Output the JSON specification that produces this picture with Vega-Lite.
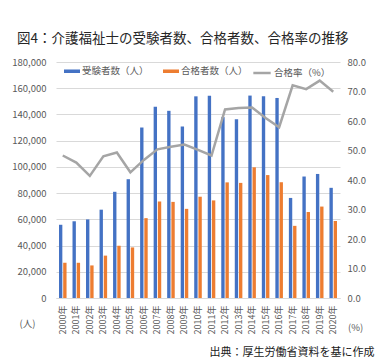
{
  "$schema": "https://vega.github.io/schema/vega-lite/v6.json",
  "width": 284,
  "height": 236,
  "autosize": {"type": "none"},
  "padding": {"left": 56, "top": 62, "right": 43, "bottom": 66},
  "background": "white",
  "config": {
    "font": "Noto Sans CJK JP",
    "view": {"stroke": null}
  },
  "title": {
    "text": "図4：介護福祉士の受験者数、合格者数、合格率の推移",
    "anchor": "start",
    "frame": "group",
    "fontSize": 13.5,
    "fontWeight": "normal",
    "color": "#262626",
    "dx": -39,
    "offset": 12
  },
  "data": {
    "values": [
      {"year": "2000年", "受験者数（人）": 55853, "合格者数（人）": 26973, "rate": 48.3},
      {"year": "2001年", "受験者数（人）": 58517, "合格者数（人）": 26862, "rate": 45.9},
      {"year": "2002年", "受験者数（人）": 59943, "合格者数（人）": 24845, "rate": 41.4},
      {"year": "2003年", "受験者数（人）": 67363, "合格者数（人）": 32319, "rate": 48.0},
      {"year": "2004年", "受験者数（人）": 81008, "合格者数（人）": 39938, "rate": 49.3},
      {"year": "2005年", "受験者数（人）": 90602, "合格者数（人）": 38576, "rate": 42.6},
      {"year": "2006年", "受験者数（人）": 130034, "合格者数（人）": 60910, "rate": 46.8},
      {"year": "2007年", "受験者数（人）": 145946, "合格者数（人）": 73606, "rate": 50.4},
      {"year": "2008年", "受験者数（人）": 142765, "合格者数（人）": 73302, "rate": 51.3},
      {"year": "2009年", "受験者数（人）": 130830, "合格者数（人）": 67993, "rate": 52.0},
      {"year": "2010年", "受験者数（人）": 153811, "合格者数（人）": 77251, "rate": 50.2},
      {"year": "2011年", "受験者数（人）": 154223, "合格者数（人）": 74432, "rate": 48.3},
      {"year": "2012年", "受験者数（人）": 137961, "合格者数（人）": 88190, "rate": 63.9},
      {"year": "2013年", "受験者数（人）": 136375, "合格者数（人）": 87797, "rate": 64.4},
      {"year": "2014年", "受験者数（人）": 154390, "合格者数（人）": 99689, "rate": 64.6},
      {"year": "2015年", "受験者数（人）": 153808, "合格者数（人）": 93760, "rate": 61.0},
      {"year": "2016年", "受験者数（人）": 152573, "合格者数（人）": 88300, "rate": 57.9},
      {"year": "2017年", "受験者数（人）": 76323, "合格者数（人）": 55031, "rate": 72.1},
      {"year": "2018年", "受験者数（人）": 92654, "合格者数（人）": 65574, "rate": 70.8},
      {"year": "2019年", "受験者数（人）": 94610, "合格者数（人）": 69736, "rate": 73.7},
      {"year": "2020年", "受験者数（人）": 84032, "合格者数（人）": 58745, "rate": 69.9}
    ]
  },
  "layer": [
    {
      "transform": [{"fold": ["受験者数（人）", "合格者数（人）"], "as": ["series", "value"]}],
      "mark": {"type": "bar"},
      "encoding": {
        "x": {
          "field": "year",
          "type": "nominal",
          "sort": null,
          "scale": {"paddingInner": 0.44, "paddingOuter": 0.22},
          "axis": {
            "title": "出典：厚生労働省資料を基に作成",
            "titleFontSize": 11,
            "titleFontWeight": "normal",
            "titleColor": "#1a1a1a",
            "titleAngle": 0,
            "titleAlign": "right",
            "titleBaseline": "middle",
            "titleX": 318,
            "titleY": 54,
            "labelAngle": -90,
            "labelFontSize": 9,
            "labelColor": "#595959",
            "labelPadding": 7,
            "ticks": false,
            "domainColor": "#d9d9d9",
            "grid": false
          }
        },
        "xOffset": {
          "field": "series",
          "sort": ["受験者数（人）", "合格者数（人）"],
          "scale": {"paddingInner": 0.2}
        },
        "y": {
          "field": "value",
          "type": "quantitative",
          "scale": {"domain": [0, 180000], "nice": false},
          "axis": {
            "values": [0, 20000, 40000, 60000, 80000, 100000, 120000, 140000, 160000, 180000],
            "format": ",.0f",
            "grid": true,
            "gridColor": "#d9d9d9",
            "domain": false,
            "ticks": false,
            "labelFontSize": 9.5,
            "labelColor": "#595959",
            "labelPadding": 10,
            "title": "(人)",
            "titleAngle": 0,
            "titleAlign": "center",
            "titleBaseline": "middle",
            "titleX": -29,
            "titleY": 261,
            "titleFontSize": 9.5,
            "titleFontWeight": "normal",
            "titleColor": "#595959"
          }
        },
        "color": {
          "field": "series",
          "type": "nominal",
          "sort": ["受験者数（人）", "合格者数（人）"],
          "scale": {"domain": ["受験者数（人）", "合格者数（人）"], "range": ["#4472C4", "#ED7D31"]},
          "legend": {
            "title": null,
            "orient": "none",
            "direction": "horizontal",
            "legendX": 8,
            "legendY": 1,
            "symbolType": "M-1,-0.22L1,-0.22L1,0.22L-1,0.22Z",
            "symbolSize": 256,
            "symbolStrokeWidth": 0,
            "labelFontSize": 9.5,
            "labelColor": "#595959",
            "labelOffset": 2,
            "columnPadding": 14
          }
        }
      }
    },
    {
      "mark": {"type": "line", "strokeWidth": 2.5},
      "encoding": {
        "x": {"field": "year", "type": "nominal", "sort": null},
        "y": {
          "field": "rate",
          "type": "quantitative",
          "scale": {"domain": [0, 80], "nice": false},
          "axis": {
            "orient": "right",
            "values": [0, 10, 20, 30, 40, 50, 60, 70, 80],
            "format": ".1f",
            "grid": false,
            "domain": false,
            "ticks": false,
            "labelFontSize": 9.5,
            "labelColor": "#595959",
            "labelPadding": 7,
            "title": "(%)",
            "titleAngle": 0,
            "titleAlign": "center",
            "titleBaseline": "middle",
            "titleX": 15,
            "titleY": 265,
            "titleFontSize": 9.5,
            "titleFontWeight": "normal",
            "titleColor": "#595959"
          }
        },
        "stroke": {
          "datum": "合格率（%）",
          "type": "nominal",
          "scale": {"domain": ["合格率（%）"], "range": ["#A5A5A5"]},
          "legend": {
            "title": null,
            "orient": "none",
            "legendX": 196,
            "legendY": 1,
            "symbolType": "stroke",
            "symbolSize": 300,
            "symbolStrokeWidth": 2.5,
            "labelFontSize": 9.5,
            "labelColor": "#595959",
            "labelOffset": 2
          }
        }
      }
    }
  ],
  "resolve": {"scale": {"y": "independent"}}
}
